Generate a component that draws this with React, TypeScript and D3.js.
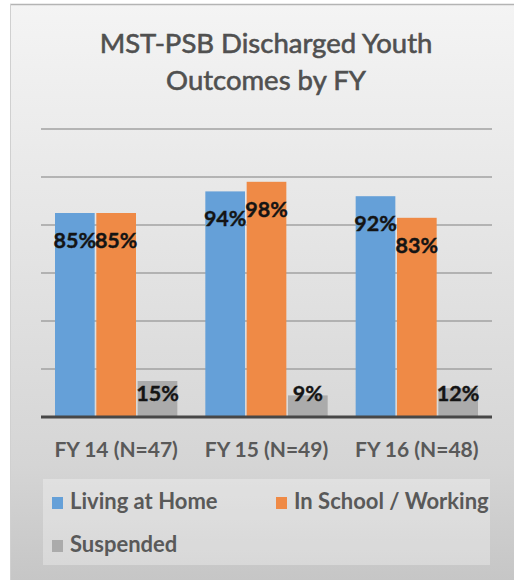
import React from "react";
import * as d3 from "d3";

const categories = ["FY 14 (N=47)", "FY 15 (N=49)", "FY 16 (N=48)"];
const seriesNames = ["Living at Home", "In School / Working", "Suspended"];
const livingAtHome = [0.85, 0.94, 0.92];
const inSchoolWorking = [0.85, 0.98, 0.83];
const suspended = [0.15, 0.09, 0.12];
const yTicks = [0.2, 0.4, 0.6, 0.8, 1.0, 1.2];
const titleLines = ["MST-PSB Discharged Youth", "Outcomes by FY"];

const colors = ["#65a0d8", "#ef8a46", "#ababab"];
const seriesValues = [livingAtHome, inSchoolWorking, suspended];

const W = 514;
const H = 580;
const plot = { left: 41, right: 492, top: 129, bottom: 417 };
const FONT = "Lato, 'Open Sans', sans-serif";

export default function App() {
  const x0 = d3.scaleBand<string>().domain(categories).range([plot.left, plot.right]).padding(0);
  const groupPad = 14;
  const x1 = d3
    .scaleBand<number>()
    .domain(d3.range(seriesNames.length))
    .range([groupPad, x0.bandwidth() - groupPad])
    .paddingInner(0.04);
  const y = d3.scaleLinear().domain([0, 1.2]).range([plot.bottom, plot.top]);
  const pct = d3.format(".0%");

  return (
    <svg
      width={W}
      height={H}
      style={{ position: "absolute", left: 0, top: 0, background: "#ffffff" }}
    >
      <defs>
        <linearGradient id="bg" x1="0" y1="0" x2="0" y2="1">
          <stop offset="0" stopColor="#f4f4f4" />
          <stop offset="0.45" stopColor="#e3e3e3" />
          <stop offset="0.8" stopColor="#d5d5d5" />
          <stop offset="1" stopColor="#c6c6c6" />
        </linearGradient>
      </defs>
      <rect x={0} y={0} width={W} height={H} fill="#ffffff" />
      <text x={79} y={-6} fontFamily={FONT} fontWeight={700} fontSize={24} fill="#000">
        y
      </text>
      <rect x={10} y={4} width={W - 10} height={H - 4} fill="url(#bg)" />
      <line x1={10} x2={W} y1={4.5} y2={4.5} stroke="#b4b4b4" strokeWidth={1.5} />
      <line x1={10.5} x2={10.5} y1={4} y2={H} stroke="#d0d0d0" strokeWidth={1} />

      {titleLines.map((t, i) => (
        <text
          key={t}
          x={266}
          y={53 + i * 37}
          textAnchor="middle"
          fontFamily={FONT}
          fontSize={27.5}
          fill="#505050"
          stroke="#505050"
          strokeWidth={0.6}
        >
          {t}
        </text>
      ))}

      {yTicks.map((t) => (
        <line
          key={t}
          x1={plot.left}
          x2={plot.right}
          y1={y(t)}
          y2={y(t)}
          stroke="#a2a2a2"
          strokeWidth={1.6}
        />
      ))}

      {categories.map((c, ci) => (
        <g key={c} transform={`translate(${x0(c)},0)`}>
          {seriesValues.map((vals, si) => (
            <rect
              key={si}
              x={x1(si)}
              y={y(vals[ci])}
              width={x1.bandwidth()}
              height={y(0) - y(vals[ci])}
              fill={colors[si]}
            />
          ))}
        </g>
      ))}

      <line x1={plot.left} x2={plot.right} y1={y(0)} y2={y(0)} stroke="#474747" strokeWidth={3} />

      {categories.map((c, ci) => (
        <g key={c + "l"} transform={`translate(${x0(c)},0)`}>
          {seriesValues.map((vals, si) => (
            <text
              key={si}
              x={(x1(si) as number) + x1.bandwidth() / 2}
              y={si === 2 ? y(0) - 16.5 : y(vals[ci]) + 35}
              textAnchor="middle"
              fontFamily={FONT}
              fontWeight={700}
              fontSize={21.5}
              fill="#141414"
              stroke="#141414"
              strokeWidth={0.4}
            >
              {pct(vals[ci])}
            </text>
          ))}
        </g>
      ))}

      {categories.map((c) => (
        <text
          key={c + "a"}
          x={(x0(c) as number) + x0.bandwidth() / 2}
          y={457}
          textAnchor="middle"
          fontFamily={FONT}
          fontWeight={700}
          fontSize={21}
          fill="#595959"
        >
          {c}
        </text>
      ))}

      <rect x={43} y={479} width={447} height={86} fill="#ffffff" fillOpacity={0.3} />
      {seriesNames.map((s, i) => {
        const lx = i === 1 ? 276 : 52;
        const ly = i === 2 ? 552 : 509;
        return (
          <g key={s}>
            <rect x={lx} y={ly - 12} width={11} height={12} fill={colors[i]} />
            <text x={lx + 18} y={ly} fontFamily={FONT} fontWeight={700} fontSize={22} fill="#595959">
              {s}
            </text>
          </g>
        );
      })}
    </svg>
  );
}
